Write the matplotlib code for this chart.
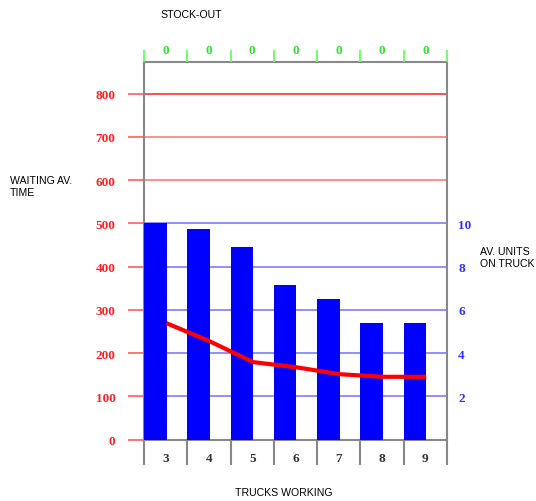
import matplotlib
matplotlib.use('Agg')
import matplotlib.pyplot as plt
import numpy as np

# data
trucks = ['3', '4', '5', '6', '7', '8', '9']
stock_out = ['0', '0', '0', '0', '0', '0', '0']
units_on_truck = [10.0, 9.75, 8.9, 7.15, 6.5, 5.4, 5.4]
waiting_time = [269, 227, 179, 167, 151, 145, 145]
left_ticks = [0, 100, 200, 300, 400, 500, 600, 700, 800]
right_ticks = [2, 4, 6, 8, 10]

W, H = 536, 502
fig = plt.figure(figsize=(W / 100, H / 100), dpi=100)
x0, x1, y_top, y_bot = 144, 447, 63, 440.5
ax = fig.add_axes([x0 / W, (H - y_bot) / H, (x1 - x0) / W, (y_bot - y_top) / H])

ymax = 873
ax.set_xlim(0, len(trucks))
ax.set_ylim(0, ymax)
serif = ['Liberation Serif', 'DejaVu Serif']
sans = ['Liberation Sans', 'DejaVu Sans']
tfs = 9.5

# horizontal grid lines: red on the waiting-time scale, blue on the units scale
for v in left_ticks[1:]:
    if v >= 600:
        col = '#ff2020' if v == 800 else '#ff7070'
    else:
        col = '#7070ff'
    ax.axhline(v, color=col, lw=1.1, zorder=1)

# bars (units on truck) drawn against the right scale
ax2 = ax.twinx()
ax2.set_ylim(0, ymax / 50)
idx = np.arange(len(trucks))
bw = 0.52
ax2.bar(idx, units_on_truck, width=bw, align='edge', color='#0000ff', zorder=2)
# waiting time line on the left scale
ax3 = ax.twinx()
ax3.set_ylim(0, ymax)
ax3.plot(idx + bw, waiting_time, color='#ff0000', lw=3, zorder=3, solid_capstyle='butt')
ax3.set_yticks([])
for a in (ax2, ax3):
    a.set_xlim(0, len(trucks))
    for s in a.spines.values():
        s.set_visible(False)

# left axis
ax.set_yticks(left_ticks)
ax.set_yticklabels([str(v) for v in left_ticks], color='#ff2020', family=serif,
                   fontsize=tfs, fontweight='bold')
ax.tick_params(axis='y', length=11.5, width=1.1, color='#ff5050', pad=9)

# right axis
ax2.set_yticks(right_ticks)
ax2.set_yticklabels([str(v) for v in right_ticks], color='#3030ff', family=serif,
                    fontsize=tfs, fontweight='bold')
ax2.tick_params(axis='y', length=0, pad=8)

# bottom: separator ticks and truck labels
ax.set_xticks(np.arange(len(trucks) + 1))
ax.set_xticklabels([])
ax.tick_params(axis='x', which='major', length=18, width=1.5, color='#888888')
ax.xaxis.get_major_ticks()[2].tick1line.set_color('#8080ff')
ax.set_xticks(idx + 0.5, minor=True)
ax.set_xticklabels(trucks, minor=True, family=serif, fontsize=tfs,
                   fontweight='bold', color='#333333')
ax.tick_params(axis='x', which='minor', length=0, pad=9)

for s in ax.spines.values():
    s.set_color('#888888')
    s.set_linewidth(1.5)

# top: stock-out values
top = ax.twiny()
top.set_xlim(0, len(trucks))
top.set_xticks(np.arange(len(trucks) + 1))
top.set_xticklabels([])
top.tick_params(axis='x', which='major', length=9, width=1.3, color='#60ff60')
top.set_xticks(idx + 0.5, minor=True)
top.set_xticklabels(stock_out, minor=True, family=serif, fontsize=tfs,
                    fontweight='bold', color='#30e030')
top.tick_params(axis='x', which='minor', length=0, pad=4)
for s in top.spines.values():
    s.set_visible(False)

# titles
lfs = 7.6
fig.text(160 / W, 1 - 15 / H, 'STOCK-OUT', family=sans, fontsize=lfs, va='center', ha='left')
fig.text(283.5 / W, 1 - 493 / H, 'TRUCKS WORKING', family=sans, fontsize=lfs, va='center', ha='center')
fig.text(10 / W, 1 - 187 / H, 'WAITING AV.\nTIME', family=sans, fontsize=lfs, va='center',
         ha='left', linespacing=1.3)
fig.text(480 / W, 1 - 258 / H, 'AV. UNITS\nON TRUCK', family=sans, fontsize=lfs, va='center',
         ha='left', linespacing=1.3)

fig.savefig('out.png', dpi=100)
